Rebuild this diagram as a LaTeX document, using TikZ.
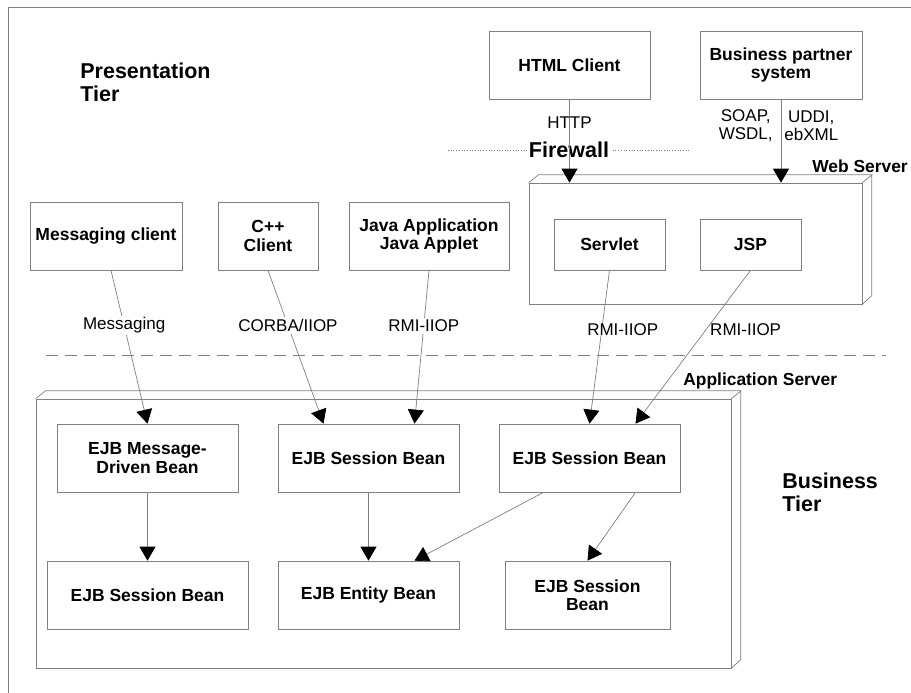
\documentclass[tikz,border=0pt]{standalone}
\usepackage{fontspec}
\setmainfont{Liberation Sans}
\usetikzlibrary{arrows.meta}

\begin{document}
\begin{tikzpicture}[
    x=1pt,
    y=-1pt,
    line width=0.7pt,
    box/.style={
        rectangle,
        draw=gray,
        inner sep=0pt,
        minimum width=#1,
        minimum height=68pt,
        align=center,
        font=\fontsize{17.5}{18.5}\selectfont\bfseries
    },
    box/.default=181pt,
    server/.style={
        rectangle,
        draw=gray,
        inner sep=0pt
    },
    flow/.style={
        draw=gray,
        -{Triangle[width=16pt,length=14pt,color=black]}
    },
    proto/.style={
        inner sep=2pt,
        align=center,
        font=\fontsize{17}{18}\selectfont
    },
    tier/.style={
        inner sep=0pt,
        align=left,
        font=\fontsize{21.5}{22.5}\selectfont\bfseries
    },
    srvlabel/.style={
        inner sep=0pt,
        font=\fontsize{17.4}{18}\selectfont\bfseries
    }
]
    \useasboundingbox (0,0) rectangle (911,693);

    % Frame
    \draw[gray] (8,693) -- (8,7) -- (911,7);

    % Tiers
    \node[tier, anchor=north west] (prestier) at (80,63) {Presentation\\Tier};
    \node[tier, anchor=north west] (bustier) at (782,473) {Business\\Tier};
    \draw[gray, dash pattern=on 12pt off 7pt] (46,355) -- (886,355);

    % Firewall
    \draw[gray, dotted] (448,150) -- (691,150);
    \node[fill=white, inner sep=2pt, font=\fontsize{21.5}{22}\selectfont\bfseries] (firewall) at (569,150) {Firewall};

    % Web server
    \node[server, minimum width=333pt, minimum height=121pt] (websrv) at (695.5,243.5) {};
    \draw[gray] (websrv.north west) -- ++(10,-8) -- ++(333,0) -- ++(0,121) -- (websrv.south east);
    \draw[gray] (websrv.north east) -- ++(10,-8);
    \node[srvlabel, anchor=west] (websrvlabel) at (812,166) {Web Server};

    % Application server
    \node[server, minimum width=695pt, minimum height=269pt] (appsrv) at (383.5,533.5) {};
    \draw[gray] (appsrv.north west) -- ++(10,-8) -- ++(695,0) -- ++(0,269) -- (appsrv.south east);
    \draw[gray] (appsrv.north east) -- ++(10,-8);
    \node[srvlabel, anchor=west] (appsrvlabel) at (683,381) {Application Server};

    % Clients
    \node[box=161pt] (html) at (569.5,65) {HTML Client};
    \node[box=162pt] (partner) at (781,65) {Business partner\\system};
    \node[box=152pt] (msgclient) at (106,236) {Messaging client};
    \node[box=100pt] (cppclient) at (268,236) {C++\\Client};
    \node[box=160pt] (javaclient) at (429,236) {Java Application\\Java Applet};

    % Web components
    \node[box=111pt, minimum height=51pt] (servlet) at (609.5,244.5) {Servlet};
    \node[box=101pt, minimum height=51pt] (jsp) at (750.5,244.5) {JSP};

    % Beans
    \node[box] (mdb) at (147.5,458) {EJB Message-\\Driven Bean};
    \node[box] (sessionA) at (368.5,458) {EJB Session Bean};
    \node[box] (sessionB) at (589.5,458) {EJB Session Bean};
    \node[box=201pt] (sessionC) at (147.5,595) {EJB Session Bean};
    \node[box] (entity) at (368.5,595) {EJB Entity Bean};
    \node[box=165pt] (sessionD) at (587.5,595) {EJB Session\\Bean};

    % Into the web server
    \draw[flow] (html.south) -- (html.south |- websrv.north) node[pos=0.28, proto] {HTTP};
    \draw[flow] (partner.south) -- (partner.south |- websrv.north)
        node[pos=0.32, proto, anchor=east, xshift=-6] {SOAP,\\WSDL,}
        node[pos=0.32, proto, anchor=west, xshift=1] {UDDI,\\ebXML};

    % Into the application server
    \draw[flow] ([xshift=5]msgclient.south) -- (mdb.north) node[pos=0.36, proto, fill=white] {Messaging};
    \draw[flow] (cppclient.south) -- ([xshift=-45]sessionA.north) node[pos=0.36, proto, fill=white] {CORBA/IIOP};
    \draw[flow] (javaclient.south) -- ([xshift=46]sessionA.north) node[pos=0.36, proto, fill=white] {RMI-IIOP};
    \draw[flow] (servlet.south) -- (sessionB.north) node[pos=0.39, proto, xshift=21] {RMI-IIOP};
    \draw[flow] (jsp.south) -- ([xshift=46]sessionB.north) node[pos=0.39, proto, xshift=40] {RMI-IIOP};

    % Between beans
    \draw[flow] (mdb.south) -- (sessionC.north);
    \draw[flow] (sessionA.south) -- (entity.north);
    \draw[flow] ([xshift=-46]sessionB.south) -- ([xshift=46]entity.north);
    \draw[flow] ([xshift=46]sessionB.south) -- (sessionD.north);

\end{tikzpicture}
\end{document}
